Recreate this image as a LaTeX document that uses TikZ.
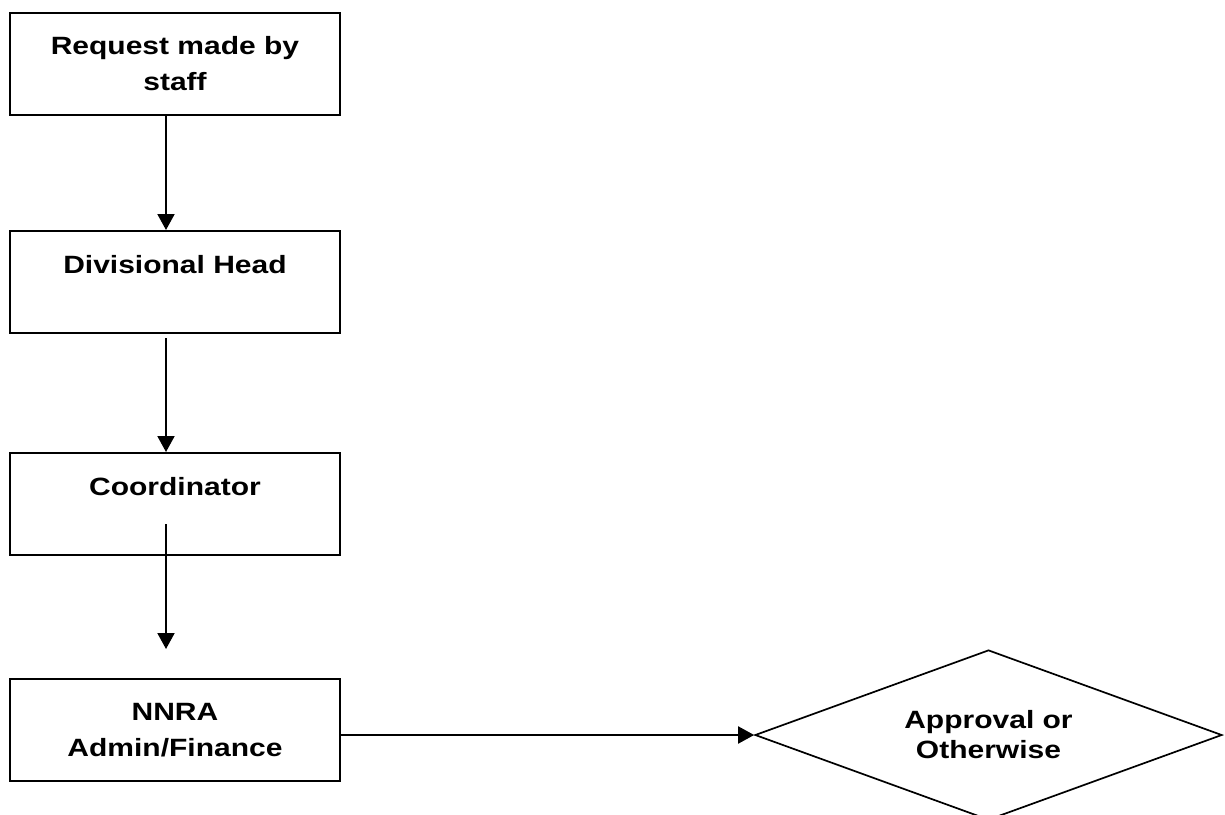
\documentclass[tikz,border=0pt]{standalone}
\usepackage{fontspec}
\setmainfont{Liberation Sans}[FakeStretch=1.2]
\usetikzlibrary{shapes.geometric,arrows.meta,calc}

\tikzset{
  box/.style={draw, line width=2pt, minimum width=330pt, minimum height=102pt,
              inner sep=0pt, align=center, font=\fontsize{25}{36}\selectfont\bfseries},
  decision/.style={draw, line width=1.7pt, shape=diamond, aspect=2.75,
              minimum width=467pt, minimum height=170pt, inner sep=0pt,
              align=center, font=\fontsize{25}{30}\selectfont\bfseries},
  flow/.style={line width=2pt, -{Triangle[length=16pt,width=17pt]}}
}

\begin{document}
\begin{tikzpicture}[x=1pt,y=-1pt]
            \useasboundingbox (0,0) rectangle (1225,814);
            \node[box]      (request)  at (175, 64)   {Request made by\\staff};
            \node[box]      (division) at (175,282)   {Divisional Head\\~};
            \node[box]      (coord)    at (175,504)   {Coordinator\\~};
            \node[box]      (nnra)     at (175,730)   {NNRA\\Admin/Finance};
            \node[decision] (approval) at (988.5,735) {Approval or\\Otherwise};
            \draw[flow] ($(request.south)+(-9,0)$)  -- ($(division.north)+(-9,0)$);
            \draw[flow] ($(division.south)+(-9,4)$) -- ($(coord.north)+(-9,0)$);
            \draw[flow] ($(coord.south)+(-9,-32)$)  -- ($(nnra.north)+(-9,-29)$);
            \draw[flow] (nnra.east |- approval.west) -- (approval.west);
\end{tikzpicture}
\end{document}
